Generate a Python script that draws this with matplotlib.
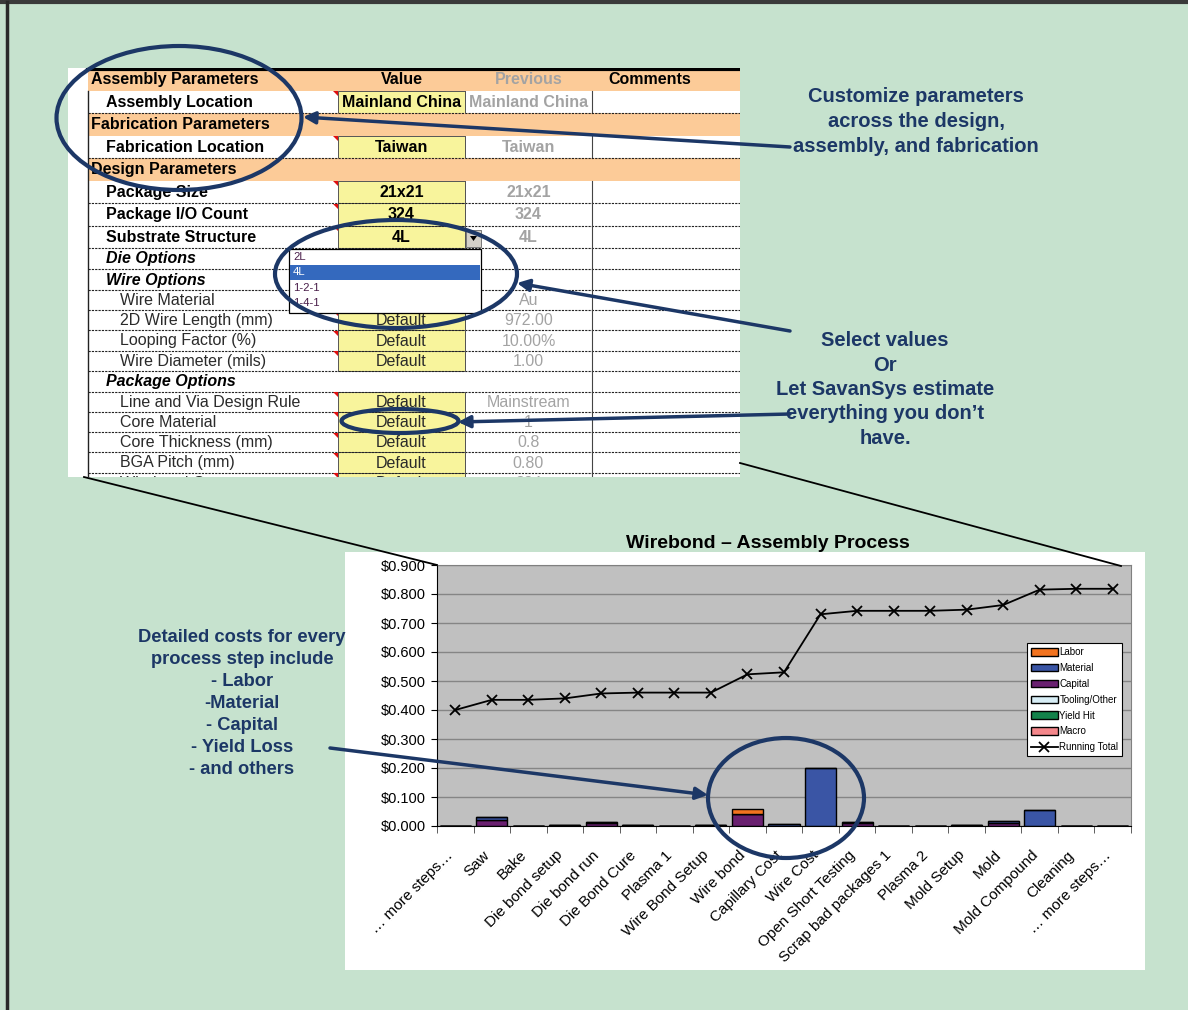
import numpy as np
import matplotlib
matplotlib.use('Agg')
import matplotlib.pyplot as plt
import matplotlib.transforms as mtransforms
from matplotlib.patches import Rectangle, Ellipse, Polygon

plt.rcParams['font.family'] = ['Liberation Sans', 'DejaVu Sans']

# --- chart data ---
steps = ['… more steps…', 'Saw', 'Bake', 'Die bond setup', 'Die bond run', 'Die Bond Cure',
         'Plasma 1', 'Wire Bond Setup', 'Wire bond', 'Capillary Cost', 'Wire Cost',
         'Open Short Testing', 'Scrap bad packages 1', 'Plasma 2', 'Mold Setup', 'Mold',
         'Mold Compound', 'Cleaning', '… more steps…']
labor = [0, 0, 0, 0, 0, 0, 0, 0.001, 0.017, 0, 0, 0, 0, 0, 0, 0, 0, 0, 0]
material = [0, 0.009, 0, 0, 0.003, 0, 0, 0, 0, 0.008, 0.200, 0.002, 0, 0, 0, 0.004, 0.055, 0, 0]
capital = [0, 0.022, 0, 0.003, 0.012, 0.003, 0, 0.002, 0.043, 0, 0, 0.011, 0, 0, 0.003, 0.012, 0, 0, 0]
tooling = [0, 0, 0, 0, 0, 0, 0, 0, 0, 0, 0, 0, 0, 0, 0, 0, 0, 0, 0]
yield_hit = [0, 0, 0, 0, 0, 0, 0, 0, 0, 0, 0, 0, 0, 0, 0, 0, 0, 0, 0]
macro = [0, 0, 0, 0, 0, 0, 0, 0, 0, 0, 0, 0, 0, 0, 0, 0, 0, 0, 0]
running_total = [0.400, 0.435, 0.435, 0.440, 0.457, 0.460, 0.460, 0.460, 0.523, 0.530,
                 0.730, 0.742, 0.742, 0.742, 0.746, 0.762, 0.815, 0.818, 0.818]
y_ticks = [0.0, 0.1, 0.2, 0.3, 0.4, 0.5, 0.6, 0.7, 0.8, 0.9]

# --- spreadsheet data ---
param_labels = ['Assembly Parameters', 'Assembly Location', 'Fabrication Parameters',
                'Fabrication Location', 'Design Parameters', 'Package Size', 'Package I/O Count',
                'Substrate Structure', 'Die Options', 'Wire Options', 'Wire Material',
                '2D Wire Length (mm)', 'Looping Factor (%)', 'Wire Diameter (mils)',
                'Package Options', 'Line and Via Design Rule', 'Core Material',
                'Core Thickness (mm)', 'BGA Pitch (mm)', 'Wirebond Count']
param_kinds = ['head', 'main', 'section', 'main', 'section', 'main', 'main', 'main', 'group',
               'group', 'sub', 'sub', 'sub', 'sub', 'group', 'sub', 'sub', 'sub', 'sub', 'sub']
param_values = ['Value', 'Mainland China', '', 'Taiwan', '', '21x21', '324', '4L', '', '',
                'Default', 'Default', 'Default', 'Default', '', 'Default', 'Default', 'Default',
                'Default', 'Default']
param_previous = ['Previous', 'Mainland China', '', 'Taiwan', '', '21x21', '324', '4L', '', '',
                  'Au', '972.00', '10.00%', '1.00', '', 'Mainstream', '1', '0.8', '0.80', '324']
dropdown_items = ['2L', '4L', '1-2-1', '1-4-1']
dropdown_selected = '4L'

notes_top = ['Customize parameters', 'across the design,', 'assembly, and fabrication']
notes_mid = ['Select values', 'Or', 'Let SavanSys estimate', 'everything you don’t', 'have.']
notes_left = ['Detailed costs for every', 'process step include', '- Labor', '-Material',
              '- Capital', '- Yield Loss', '- and others']

green = '#C6E2CE'
navy = '#1C3766'
orange = '#FCCB98'
yellow = '#F8F49C'
gray_txt = '#A3A3A3'

W, H = 1188, 1010
fig = plt.figure(figsize=(W / 100, H / 100), dpi=100)
fig.patch.set_facecolor(green)


def px_axes(x0, y0, x1, y1):
    a = fig.add_axes([x0 / W, 1 - y1 / H, (x1 - x0) / W, (y1 - y0) / H])
    a.set_xlim(x0, x1)
    a.set_ylim(y1, y0)
    a.axis('off')
    return a


# background, frame, chart panel, notes
bg = px_axes(0, 0, W, H)
bg.plot([0, W], [2, 2], color='#3a3a3a', lw=3)
bg.plot([7, 7], [2, H], color='#2a2a2a', lw=2.5)
bg.add_patch(Rectangle((345, 552), 800, 418, fc='white', ec='none'))
bg.text(768, 544, 'Wirebond – Assembly Process', fontsize=14, fontweight='bold',
        ha='center', va='center')

for i, s in enumerate(notes_top):
    bg.text(916, 97 + i * 24.5, s, fontsize=14.5, fontweight='bold', color=navy,
            ha='center', va='center')
for i, s in enumerate(notes_mid):
    bg.text(885, 341 + i * 24.3, s, fontsize=14.5, fontweight='bold', color=navy,
            ha='center', va='center')
for i, s in enumerate(notes_left):
    bg.text(242, 637 + i * 22, s, fontsize=13.2, fontweight='bold', color=navy,
            ha='center', va='center')

# spreadsheet screenshot
tb = px_axes(68, 68, 740, 477)
tb.add_patch(Rectangle((68, 68), 672, 409, fc='white', ec='none', zorder=0))
heights = {'head': 22.5, 'main': 22.5, 'section': 22.5, 'group': 21, 'sub': 20.2}
top = 68
for label, kind, val, prev in zip(param_labels, param_kinds, param_values, param_previous):
    h = heights[kind]
    mid = top + h / 2 + 0.5
    if kind in ('head', 'section'):
        tb.add_patch(Rectangle((88, top), 652, h, fc=orange, ec='none', zorder=1))
        tb.text(91, mid, label, fontsize=11.5, fontweight='bold', va='center', clip_on=True, zorder=3)
        if kind == 'head':
            tb.text(401.5, mid, val, fontsize=11.5, fontweight='bold', ha='center', va='center', zorder=3)
            tb.text(528.5, mid, prev, fontsize=11.5, fontweight='bold', color=gray_txt,
                    ha='center', va='center', zorder=3)
            tb.text(650, mid, 'Comments', fontsize=11.5, fontweight='bold', ha='center', va='center', zorder=3)
    else:
        tb.plot([592, 592], [top, top + h], color='#444', lw=0.8, zorder=2)
        tb.plot([88, 740], [top + h, top + h], color='#222', lw=0.8, ls=(0, (2, 1)), zorder=2)
        if kind == 'group':
            tb.text(106, mid, label, fontsize=11.5, fontweight='bold', style='italic',
                    va='center', clip_on=True, zorder=3)
        else:
            bold = 'bold' if kind == 'main' else 'normal'
            x_lab = 106 if kind == 'main' else 120
            tb.add_patch(Rectangle((338, top), 127, h, fc=yellow, ec='#555', lw=0.7, zorder=1))
            tb.plot([465, 465], [top, top + h], color='#555', lw=0.7, zorder=2)
            tb.add_patch(Polygon([(333, top + 0.5), (338, top + 0.5), (338, top + 5.5)],
                                 fc='#E01010', ec='none', zorder=3))
            tb.text(x_lab, mid, label, fontsize=11.5, fontweight=bold,
                    color='black' if kind == 'main' else '#2a2a2a', va='center', clip_on=True, zorder=3)
            tb.text(401.5, mid, val, fontsize=11.5, fontweight=bold,
                    color='black' if kind == 'main' else '#2a2a2a',
                    ha='center', va='center', clip_on=True, zorder=3)
            tb.text(528.5, mid, prev, fontsize=11.5, fontweight=bold, color=gray_txt,
                    ha='center', va='center', clip_on=True, zorder=3)
    top += h
tb.plot([88, 88], [90.5, 477], color='#222', lw=1, zorder=4)
tb.plot([88, 740], [69, 69], color='black', lw=3, zorder=4)

# dropdown list
tb.add_patch(Rectangle((466, 230), 15, 17, fc='#D4D0C8', ec='#777', lw=0.7, zorder=6))
tb.add_patch(Polygon([(470, 236), (477, 236), (473.5, 241)], fc='black', ec='none', zorder=7))
tb.add_patch(Rectangle((289, 249), 192, 64, fc='white', ec='black', lw=0.9, zorder=6))
for i, item in enumerate(dropdown_items):
    y_item = 257 + i * 15.3
    if item == dropdown_selected:
        tb.add_patch(Rectangle((290, y_item - 7.5), 190, 15, fc='#3469BE', ec='none', zorder=7))
    tb.text(293, y_item, item, fontsize=8.2, color='white' if item == dropdown_selected else '#4a1f4a',
            va='center', zorder=8)

# bar chart
ax = fig.add_axes([437 / W, 1 - 826 / H, 694 / W, 261 / H])
ax.set_facecolor('#C0C0C0')
x = np.arange(len(steps))
bottom = np.zeros(len(steps))
series = [('Macro', macro, '#F4878B'), ('Yield Hit', yield_hit, '#12824A'),
          ('Tooling/Other', tooling, '#D8EEF6'), ('Capital', capital, '#6A2070'),
          ('Material', material, '#3A55A5'), ('Labor', labor, '#F2731F')]
bars = {}
for name, vals, color in series:
    bars[name] = ax.bar(x, vals, 0.85, bottom=bottom, color=color, edgecolor='black',
                        linewidth=1, label=name, zorder=2)
    bottom += np.array(vals)
line, = ax.plot(x, running_total, color='black', lw=1.3, marker='x', ms=7, mew=1.3,
                label='Running Total', zorder=3)

ax.set_xlim(-0.5, len(steps) - 0.5)
ax.set_ylim(0, 0.9)
ax.set_yticks(y_ticks)
ax.set_yticklabels([f'${v:.3f}' for v in y_ticks], fontsize=10.5)
ax.yaxis.grid(True, color='#858585', lw=1)
ax.set_axisbelow(True)
ax.tick_params(axis='y', length=4, pad=4)

# category labels placed by hand so they can sit a bit left of the category centre
ax.set_xticks(x)
ax.set_xticklabels([])
ax.tick_params(axis='x', which='major', length=0)
shift = mtransforms.ScaledTranslation(-9 / 100, -22 / 100, fig.dpi_scale_trans)
for xi, name in zip(x, steps):
    ax.text(xi, 0, name, rotation=45, ha='right', va='top', rotation_mode='anchor',
            fontsize=11, transform=ax.get_xaxis_transform() + shift, clip_on=False)
ax.set_xticks(np.arange(-0.5, len(steps)), minor=True)
ax.tick_params(axis='x', which='minor', length=5, color='#444')
for side in ('top', 'right'):
    ax.spines[side].set_color('#808080')
for side in ('left', 'bottom'):
    ax.spines[side].set_color('black')

order = ['Labor', 'Material', 'Capital', 'Tooling/Other', 'Yield Hit', 'Macro']
leg = ax.legend([bars[n] for n in order] + [line], order + ['Running Total'],
                loc='upper left', bbox_to_anchor=(0.85, 0.70), fontsize=7, frameon=True,
                fancybox=False, framealpha=1, edgecolor='black', borderaxespad=0,
                handlelength=2.8, handleheight=0.8, labelspacing=0.6, handletextpad=0.15,
                borderpad=0.4)
leg.get_frame().set_linewidth(0.8)

# overlay: ellipses, arrows and the zoom lines
ov = px_axes(0, 0, W, H)
ov.set_zorder(10)
ov.plot([84, 437], [477, 565], color='black', lw=1.3)
ov.plot([740, 1121], [463, 566], color='black', lw=1.3)
for cx, cy, ew, eh in [(179, 118, 245, 144), (396, 274, 242, 108), (400, 421, 117, 24),
                       (786, 798, 156, 120)]:
    ov.add_patch(Ellipse((cx, cy), ew, eh, fill=False, ec=navy, lw=3))
for tail, head in [((790, 147), (303, 117)), ((790, 331), (517, 283)),
                   ((790, 414), (458, 422)), ((330, 748), (708, 795))]:
    ov.annotate('', xy=head, xytext=tail,
                arrowprops=dict(arrowstyle='-|>', color=navy, lw=2.5, mutation_scale=18,
                                shrinkA=0, shrinkB=0))

fig.savefig('out.png', dpi=100)
